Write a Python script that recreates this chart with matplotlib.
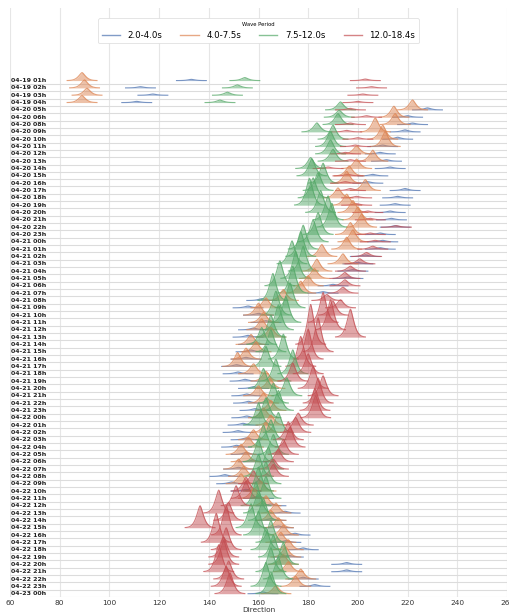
import matplotlib
matplotlib.use('Agg')
import matplotlib.pyplot as plt
import numpy as np
from matplotlib.lines import Line2D

times = ["04-19 01h", "04-19 02h", "04-19 03h", "04-19 04h",
         "04-20 05h", "04-20 06h", "04-20 08h", "04-20 09h", "04-20 10h", "04-20 11h",
         "04-20 12h", "04-20 13h", "04-20 14h", "04-20 15h", "04-20 16h", "04-20 17h",
         "04-20 18h", "04-20 19h", "04-20 20h", "04-20 21h", "04-20 22h", "04-20 23h",
         "04-21 00h", "04-21 01h", "04-21 02h", "04-21 03h", "04-21 04h", "04-21 05h",
         "04-21 06h", "04-21 07h", "04-21 08h", "04-21 09h", "04-21 10h", "04-21 11h",
         "04-21 12h", "04-21 13h", "04-21 14h", "04-21 15h", "04-21 16h", "04-21 17h",
         "04-21 18h", "04-21 19h", "04-21 20h", "04-21 21h", "04-21 22h", "04-21 23h",
         "04-22 00h", "04-22 01h", "04-22 02h", "04-22 03h", "04-22 04h", "04-22 05h",
         "04-22 06h", "04-22 07h", "04-22 08h", "04-22 09h", "04-22 10h", "04-22 11h",
         "04-22 12h", "04-22 13h", "04-22 14h", "04-22 15h", "04-22 16h", "04-22 17h",
         "04-22 18h", "04-22 19h", "04-22 20h", "04-22 21h", "04-22 22h", "04-22 23h",
         "04-23 00h"]

periods = ["2.0-4.0s", "4.0-7.5s", "7.5-12.0s", "12.0-18.4s"]
colors = ["#4C72B0", "#DD8452", "#55A868", "#C44E52"]

# mean direction (deg) per time step for each period band
dir_blue = [133, 112.5, 117.5, 111, 228, 220, 222, 219, 216, 210,
            209, 211.5, 213, 206, 204, 219, 216, 215, 213, 213.5,
            215, 209, 210, 209, 203, 200, 198, 196, 190, 186,
            161.3, 155.8, 160, 163, 158, 155.8, 158, 157, 155, 151.2,
            151.8, 154.6, 158, 155.3, 156, 158.6, 155.3, 153.8, 151.8, 155,
            151.2, 155, 158, 152, 146.5, 149.2, 155, 160, 165, 170.7,
            165, 168, 174.7, 171, 178, 172, 195.5, 195.5, 178, 182.7,
            161.8]
dir_orange = [89, 90, 91, 89, 222, 214.5, 215, 207, 210, 211,
              199.5, 206, 199.5, 196.5, 195.5, 203, 192, 195.5, 198, 200,
              201.5, 197, 198, 195.5, 185.5, 194, 183.5, 182.5, 180, 177,
              170, 163, 160, 162, 161.3, 165, 157, 159, 155, 151.6,
              158, 163, 164.6, 160, 162, 165, 162, 165, 163, 158,
              156, 153, 155, 152, 154, 153, 161, 158, 163, 167,
              165, 168, 170, 169, 172, 171, 170, 172, 177, 175,
              167]
dir_green = [154.5, 151.5, 147.5, 144.5, 193, 192.5, 192, 183.5, 190, 189,
             189, 190, 181, 181.5, 186, 184, 182, 180.5, 185, 188,
             189.5, 184, 182, 178, 177, 173.5, 178, 175, 168.6, 173.8,
             165.8, 172.7, 167, 171, 168, 165, 161.3, 165, 170, 163,
             173.8, 167, 162, 171.4, 166, 168, 163, 160, 168, 165,
             162, 166, 160, 164, 160, 163, 160, 163, 159, 160,
             162, 157, 160, 165, 163, 166, 170, 165, 168, 163,
             165]
dir_red = [203, 205.5, 202, 200, 197, 203.5, 197, 195.5, 200, 199,
           195, 197, 188, 196, 195, 197, 199.5, 199.5, 204, 205,
           215.5, 205, 207, 206, 203.5, 200.8, 197, 194.8, 194.8, 194,
           187.5, 193, 190, 186, 189, 197, 181, 184, 180, 177,
           180, 173.8, 182, 186, 184, 182.7, 183, 176, 175, 172,
           172.7, 170, 168, 166, 166, 158, 155, 155, 151, 144,
           148, 136.5, 147, 143, 147, 146, 146, 144, 148, 147,
           148.5]

# peak energy per time step for each period band
amp_blue = [1.2, 1.2, 1.2, 1.2, 2, 1.5, 1.5, 2, 2, 1.5,
            1.5, 1.5, 1.5, 1.5, 1.5, 2, 1.5, 1.5, 1.5, 1.5,
            1.5, 1.5, 1.5, 1.5, 1.5, 1.5, 1.5, 1.5, 1.5, 1.5,
            1.8, 1.8, 1.8, 1.8, 1.8, 1.8, 1.8, 1.8, 1.8, 1.8,
            1.8, 1.8, 1.8, 1.8, 1.8, 1.8, 1.8, 1.8, 1.8, 1.8,
            1.8, 1.8, 1.8, 1.8, 1.8, 1.8, 1.8, 1.8, 1.8, 1.8,
            1.8, 1.8, 1.8, 1.8, 1.8, 1.8, 1.8, 1.8, 1.8, 1.8,
            1.8]
amp_orange = [8, 8, 7, 7, 10, 11, 11, 14, 14, 15,
              8, 11, 9.5, 10, 12, 11, 10, 11, 12, 13,
              13, 12, 12, 12, 12, 10, 12, 10, 10, 12,
              11, 10, 12, 10, 11, 10, 10, 10, 11, 14,
              10, 10, 10, 10, 10, 10, 10, 10, 10, 10,
              10, 10, 10, 10, 10, 10, 10, 10, 10, 10,
              10, 10, 10, 10, 10, 10, 10, 10, 10, 10,
              8]
amp_green = [3, 3, 3, 2.5, 8, 7, 11, 9, 14, 15,
             14, 12, 11, 17, 20, 18, 20, 27, 22, 24,
             24, 22, 22, 24, 25, 23, 25, 27, 25, 27,
             27, 25, 24, 26, 25, 22, 17, 22, 25, 20,
             24, 22, 20, 18, 20, 20, 20, 22, 20, 20,
             22, 20, 22, 22, 22, 22, 24, 22, 24, 22,
             22, 24, 24, 22, 22, 22, 22, 24, 22, 24,
             22]
amp_red = [1.5, 1.2, 1.2, 1.2, 1.5, 1.5, 1.5, 1.5, 1.5, 1.5,
           1.5, 1.5, 1.5, 1.5, 1.5, 2, 1.5, 1.5, 1.5, 1.5,
           1.5, 1.5, 1.5, 3, 4, 5, 5, 6, 6, 6,
           6, 8, 14, 30, 30, 28, 40, 34, 30, 30,
           20, 18, 22, 20, 25, 22, 22, 12, 15, 18,
           20, 15, 12, 10, 12, 13, 14, 17, 20, 23,
           18, 22, 30, 29, 22, 20, 24, 27, 18, 20,
           21]

dirs = [dir_blue, dir_orange, dir_green, dir_red]
amps = [amp_blue, amp_orange, amp_green, amp_red]

W, H = 510, 614
fig = plt.figure(figsize=(W / 100, H / 100), dpi=100)
ax = fig.add_axes([10 / W, 17 / H, 497 / W, 589 / H])

n = len(times)
row_px = 7.34
width = 2.0
scale = 1.0 / row_px

for i in range(n):
    yb = n - 1 - i
    ax.axhline(yb - 0.45, color='#dcdcdc', lw=0.8, zorder=1)
    ax.text(60.5, yb, times[i], ha='left', va='center', fontsize=4.5,
            fontweight='bold', color='#222222', zorder=50)
    for k in range(4):
        d = dirs[k][i]
        a = amps[k][i] * scale
        x = np.linspace(d - 3 * width, d + 3 * width, 121)
        y = yb + a * np.exp(-(np.abs(x - d) / width) ** 1.45)
        z = 2 + i * 0.05 + k * 0.01
        ax.fill_between(x, yb, y, color=colors[k], alpha=0.5, lw=0, zorder=z)
        ax.plot(x, y, color=colors[k], lw=0.8, alpha=0.75, zorder=z)

ax.set_xlim(60, 260)
ax.set_ylim(-0.45, 79.9)
ax.set_xticks([60, 80, 100, 120, 140, 160, 180, 200, 220, 240, 260])
ax.set_yticks([])
ax.tick_params(axis='x', length=0, labelsize=5.3, labelcolor='#333333', pad=2)
ax.grid(axis='x', color='#e6e6e6', lw=0.8, zorder=0)
ax.set_axisbelow(True)
for s in ax.spines.values():
    s.set_visible(False)
ax.set_xlabel('Direction', fontsize=5.3, color='#333333', labelpad=1)

handles = [Line2D([0], [0], color=c, lw=1.0, alpha=0.7) for c in colors]
leg = ax.legend(handles, periods, title='Wave Period', ncol=4, loc='upper center',
                bbox_to_anchor=(0.5, 0.99), fontsize=6.2, title_fontsize=3.8,
                handlelength=2.1, handletextpad=0.9, columnspacing=2.1,
                frameon=True, fancybox=True, edgecolor='#e0e0e0', framealpha=1)
leg.get_frame().set_linewidth(0.6)

fig.savefig('out.png', dpi=100)
